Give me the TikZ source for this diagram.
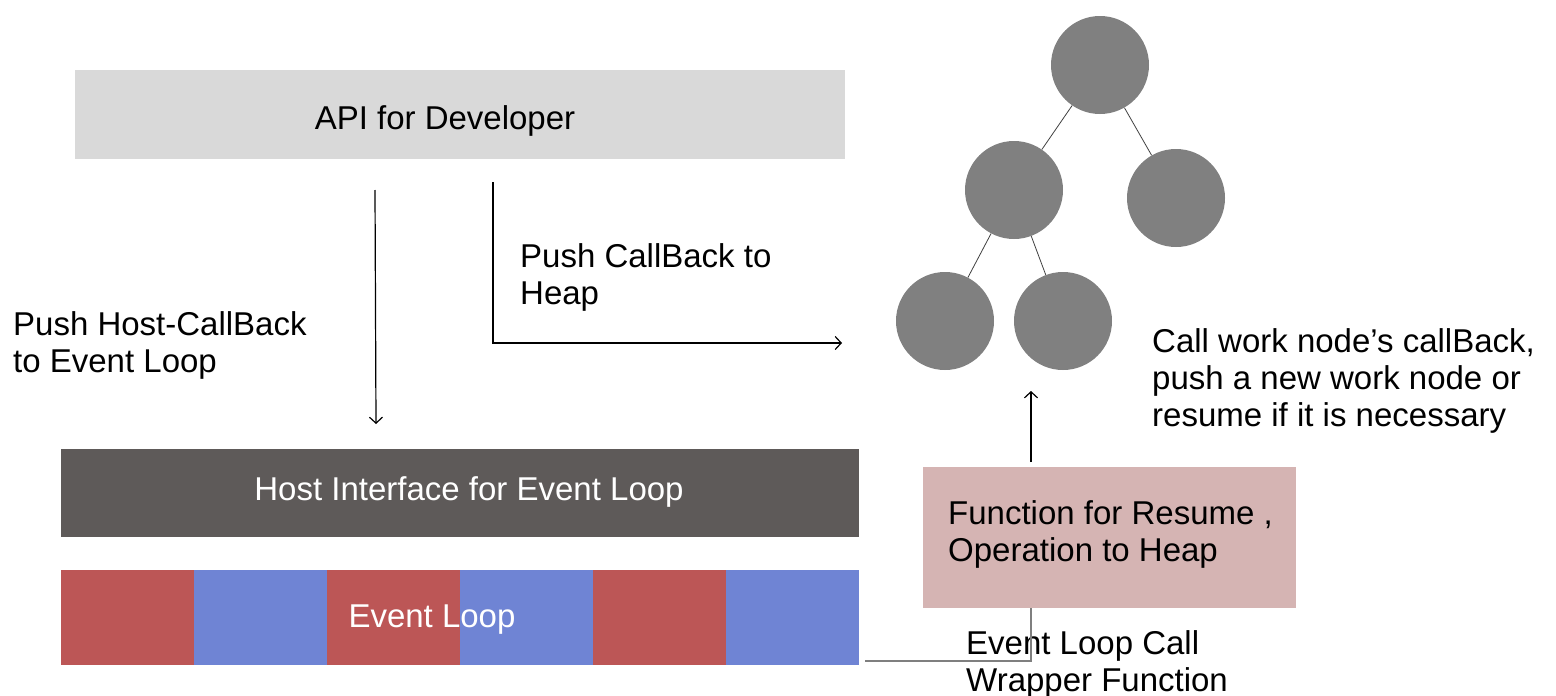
\documentclass[tikz,border=0pt]{standalone}
\usepackage{fontspec}
\setmainfont{Liberation Sans}
\usetikzlibrary{arrows.meta,calc}
\definecolor{apigray}{HTML}{D9D9D9}
\definecolor{hostgray}{HTML}{5E5A59}
\definecolor{segred}{HTML}{BC5656}
\definecolor{segblue}{HTML}{6F84D4}
\definecolor{funcpink}{HTML}{D5B4B3}
\definecolor{circgray}{HTML}{808080}
\definecolor{edgegray}{HTML}{404040}
\definecolor{linkgray}{HTML}{7F7F7F}
\tikzset{
  bigfont/.style={font=\fontsize{33}{37}\selectfont},
  barbox/.style={draw=none, inner sep=0, anchor=north west},
  lbl/.style={bigfont, align=left, inner sep=0, anchor=north west, text=black},
  heapnode/.style={circle, fill=circgray, draw=none, minimum size=98pt, inner sep=0},
  treeedge/.style={edgegray, line width=0.8pt},
  flow/.style={black, line width=1.2pt, -{Straight Barb[length=6pt,width=13pt]}},
  link/.style={linkgray, line width=1.2pt},
}
\begin{document}
\begin{tikzpicture}[x=1pt,y=-1pt]
\useasboundingbox (0,0) rectangle (1556,696);

% API box
\node[barbox, fill=apigray, minimum width=770pt, minimum height=89pt] (api) at (75,70) {};
\node[bigfont, inner sep=0] (apitxt) at (445,121) {API for Developer};

% Host interface
\node[barbox, fill=hostgray, minimum width=798pt, minimum height=88pt] (host) at (61,449) {};
\node[bigfont, text=white, inner sep=0] (hosttxt) at (469,492) {Host Interface for Event Loop};

% Event loop bar
\node[barbox, fill=segred,  minimum width=133pt, minimum height=95pt] (seg1) at (61,570) {};
\node[barbox, fill=segblue, minimum width=133pt, minimum height=95pt] (seg2) at (194,570) {};
\node[barbox, fill=segred,  minimum width=133pt, minimum height=95pt] (seg3) at (327,570) {};
\node[barbox, fill=segblue, minimum width=133pt, minimum height=95pt] (seg4) at (460,570) {};
\node[barbox, fill=segred,  minimum width=133pt, minimum height=95pt] (seg5) at (593,570) {};
\node[barbox, fill=segblue, minimum width=133pt, minimum height=95pt] (seg6) at (726,570) {};
\node[bigfont, text=white, inner sep=0] (looptxt) at (432,620) {Event Loop};

% Heap tree
\node[heapnode] (n1) at (1100,65) {};
\node[heapnode] (n2) at (1014,190) {};
\node[heapnode] (n3) at (1176,198) {};
\node[heapnode] (n4) at (945,321) {};
\node[heapnode] (n5) at (1063,321) {};
\draw[treeedge] (n1) -- (n2);
\draw[treeedge] (n1) -- (n3);
\draw[treeedge] (n2) -- (n4);
\draw[treeedge] (n2) -- (n5);

% Function box
\node[barbox, fill=funcpink, minimum width=373pt, minimum height=141pt] (func) at (923,467) {};
\node[lbl] (functxt) at (948,500) {Function for Resume ,\\Operation to Heap};

% Labels
\node[lbl] (lblhost) at (13,311) {Push Host-CallBack\\to Event Loop};
\node[lbl] (lblheap) at (520,243) {Push CallBack to\\Heap};
\node[lbl] (lblcall) at (1152,328) {Call work node’s callBack,\\push a new work node or\\resume if it is necessary};
\node[lbl] (lblwrap) at (966,630) {Event Loop Call\\Wrapper Function};

% Connectors
\coordinate (a1s) at (375,190);
\coordinate (a1e) at (376,424);
\draw[flow] (a1s) -- (a1e);
\coordinate (a2s) at (493,182);
\coordinate (a2e) at (842,343);
\draw[flow] (a2s) |- (a2e);
\coordinate (a3s) at (1031,462);
\coordinate (a3e) at (1031,391);
\draw[flow] (a3s) -- (a3e);
\coordinate (ls) at (865,661);
\coordinate (fb) at ($(func.south west)+(108,0)$);
\draw[link] (ls) -| (fb);
\end{tikzpicture}
\end{document}
